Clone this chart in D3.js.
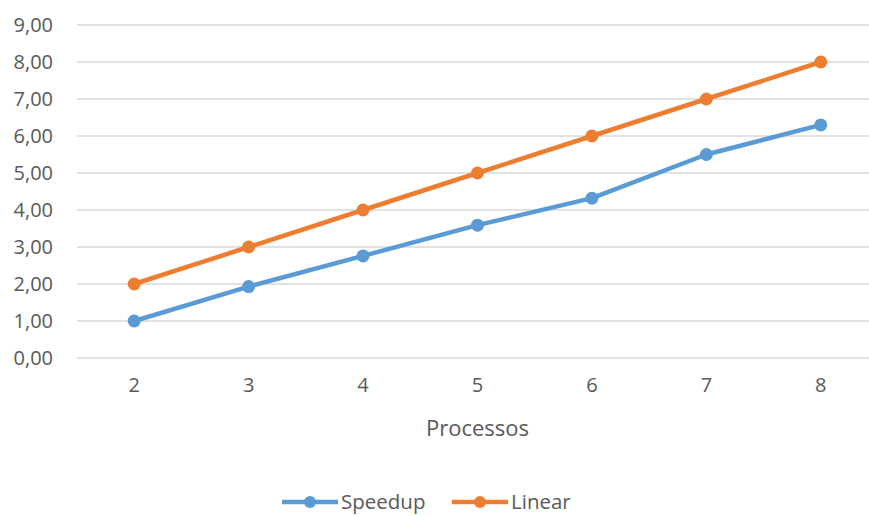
<!DOCTYPE html>
<html>
<head>
<meta charset="utf-8">
<script src="https://cdn.jsdelivr.net/npm/d3@7"></script>
<style>
  html, body { margin: 0; padding: 0; background: #fff; }
  svg { display: block; }
  text { font-family: "Open Sans", "Noto Sans", sans-serif; fill: #595959; }
</style>
</head>
<body>
<svg id="chart" width="869" height="516"></svg>
<script>
// Speedup measured against ideal linear scaling
const categories = ["2", "3", "4", "5", "6", "7", "8"];
const speedup = [1.00, 1.93, 2.76, 3.59, 4.32, 5.50, 6.30];
const linear = [2, 3, 4, 5, 6, 7, 8];
const yTicks = [0, 1, 2, 3, 4, 5, 6, 7, 8, 9];
const seriesNames = ["Speedup", "Linear"];
const seriesColors = ["#5B9BD5", "#ED7D31"];
const xTitle = "Processos";

const svg = d3.select("#chart");
const plot = { left: 77, right: 878, top: 25, bottom: 358 };

const x = d3.scaleBand().domain(categories).range([plot.left, plot.right]);
const y = d3.scaleLinear().domain([0, 9]).range([plot.bottom, plot.top]);
const fmt = v => d3.format(".2f")(v).replace(".", ",");
const cx = c => x(c) + x.bandwidth() / 2;

// horizontal gridlines
svg.append("g")
  .selectAll("line")
  .data(yTicks)
  .join("line")
  .attr("x1", plot.left)
  .attr("x2", plot.right)
  .attr("y1", d => y(d))
  .attr("y2", d => y(d))
  .attr("stroke", "#d9d9d9")
  .attr("stroke-width", 1.3);

// y axis labels
const yAxis = d3.axisLeft(y).tickValues(yTicks).tickFormat(fmt).tickSize(0).tickPadding(0);
svg.append("g")
  .attr("transform", `translate(53,0)`)
  .call(yAxis)
  .call(g => g.select(".domain").remove())
  .call(g => g.selectAll("text")
    .attr("font-size", 20)
    .attr("font-family", null)
    .attr("fill", "#595959"));

// x axis labels
const xAxis = d3.axisBottom(x).tickSize(0).tickPadding(0);
svg.append("g")
  .attr("transform", `translate(0,${plot.bottom + 20})`)
  .call(xAxis)
  .call(g => g.select(".domain").remove())
  .call(g => g.selectAll("text")
    .attr("font-size", 20)
    .attr("font-family", null)
    .attr("fill", "#595959"));

// axis title, centred under the middle category
svg.append("text")
  .attr("x", cx("5"))
  .attr("y", 436)
  .attr("text-anchor", "middle")
  .attr("font-size", 22)
  .text(xTitle);

// series lines and markers
const line = d3.line().x((d, i) => cx(categories[i])).y(d => y(d));
[speedup, linear].forEach((vals, s) => {
  const g = svg.append("g");
  g.append("path")
    .datum(vals)
    .attr("fill", "none")
    .attr("stroke", seriesColors[s])
    .attr("stroke-width", 4.5)
    .attr("stroke-linejoin", "round")
    .attr("d", line);
  g.selectAll("circle")
    .data(vals)
    .join("circle")
    .attr("cx", (d, i) => cx(categories[i]))
    .attr("cy", d => y(d))
    .attr("r", 6.5)
    .attr("fill", seriesColors[s]);
});

// legend
const legendX = [282, 452];
legendX.forEach((lx, s) => {
  const g = svg.append("g").attr("transform", `translate(${lx},502)`);
  g.append("line")
    .attr("x1", 0).attr("x2", 56)
    .attr("y1", 0).attr("y2", 0)
    .attr("stroke", seriesColors[s])
    .attr("stroke-width", 4.5);
  g.append("circle")
    .attr("cx", 28).attr("cy", 0).attr("r", 6)
    .attr("fill", seriesColors[s]);
  g.append("text")
    .attr("x", 59)
    .attr("y", 0)
    .attr("dy", "0.35em")
    .attr("font-size", 20.5)
    .text(seriesNames[s]);
});
</script>
</body>
</html>
